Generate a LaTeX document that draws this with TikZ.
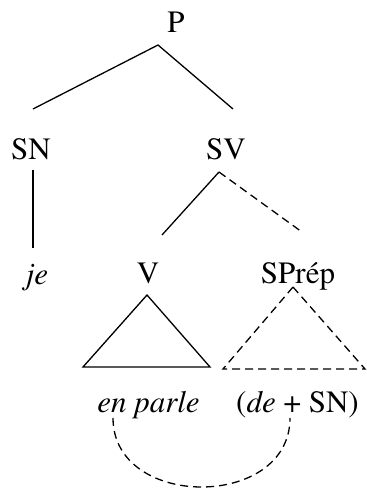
\documentclass[tikz,border=0pt]{standalone}
\usepackage[T1]{fontenc}
\usepackage{mathptmx}
\begin{document}
\begin{tikzpicture}[x=1pt,y=-1pt,
  lab/.style={anchor=base, inner sep=0pt, font=\fontsize{31}{36}\selectfont},
  edge/.style={line width=1.3pt},
  dsh/.style={edge, dash pattern=on 8pt off 5pt}]
\useasboundingbox (0,0) rectangle (366,494);
\node[lab] (P) at (176,33) {P};
\node[lab] (SN) at (31,160) {SN};
\node[lab] (SV) at (226,160) {SV};
\node[lab] (je) at (37,284) {\textit{je}};
\node[lab] (V) at (148,283) {V};
\node[lab] (SPrep) at (298,283) {SPr\'ep};
\node[lab] (enparle) at (148.5,412) {\textit{en parle}};
\node[lab] (deSN) at (297.5,412) {(\textit{de} + SN)};
% connector ends
\coordinate (Pb) at (158,45);
\coordinate (SNt) at (33,109);
\coordinate (SVt) at (233,109);
\coordinate (SNb) at (33,170);
\coordinate (jet) at (33,248);
\coordinate (SVb) at (219,172);
\coordinate (Vt) at (162,235);
\coordinate (SPt) at (302,232);
\coordinate (Va) at (147,295);
\coordinate (Vl) at (83,367);
\coordinate (Vr) at (210,367);
\coordinate (Sa) at (293,287);
\coordinate (Sl) at (223,369);
\coordinate (Sr) at (365,369);
\coordinate (A1) at (113,418);
\coordinate (A2) at (290,418);
\draw[edge] (SNt) -- (Pb) -- (SVt);
\draw[edge] (SNb) -- (jet);
\draw[edge] (Vt) -- (SVb);
\draw[dsh] (SVb) -- (SPt);
\draw[edge] (Va) -- (Vl) -- (Vr) -- cycle;
\draw[dsh] (Sa) -- (Sl) -- (Sr) -- cycle;
\draw[dsh] (A1) .. controls (113,510) and (290,510) .. (A2);
\end{tikzpicture}
\end{document}
